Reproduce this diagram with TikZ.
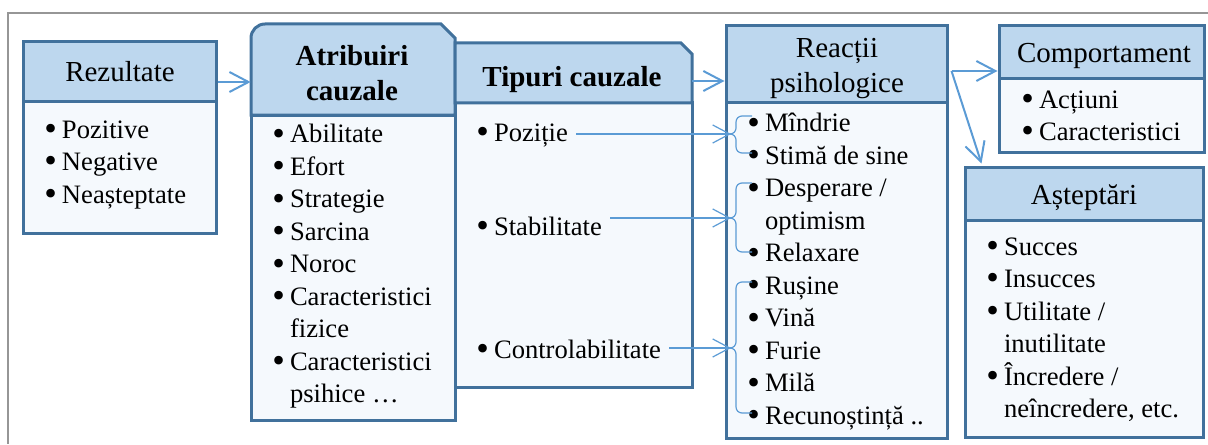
\documentclass[tikz,border=0pt]{standalone}
\usepackage{graphicx}
\usepackage{fontspec}
\setmainfont{Liberation Serif}
\usetikzlibrary{arrows.meta,fit,calc}
\definecolor{boxline}{RGB}{65,113,156}
\definecolor{hdrfill}{RGB}{189,215,238}
\definecolor{bodyfill}{RGB}{245,249,253}
\definecolor{arrowblue}{RGB}{91,155,213}
\definecolor{framegray}{RGB}{150,150,150}
\newcommand{\bul}{\makebox[8.8pt][l]{\raisebox{-1.2pt}{\scalebox{1.35}{\textbullet}}}}
\newcommand{\ind}{\hspace*{8.8pt}}
\tikzset{
  hdr/.style={draw=boxline,fill=hdrfill,line width=1.5pt,inner sep=0pt},
  bodybox/.style={draw=boxline,fill=bodyfill,line width=1.5pt,inner sep=0pt},
  htxt/.style={inner sep=0pt,align=center,font=\fontsize{14.5}{17.5}\selectfont},
  htxtb/.style={htxt,font=\fontsize{14.5}{17.5}\selectfont\bfseries},
  lst/.style={anchor=north west,align=left,inner sep=0pt,font=\fontsize{13.3}{16.25}\selectfont},
  item/.style={anchor=base west,inner sep=0pt,font=\fontsize{13.3}{16.25}\selectfont},
  flow/.style={draw=arrowblue,line width=1pt,-{Straight Barb[length=9.5pt,width=10pt]}},
  link/.style={draw=arrowblue,line width=0.6pt,-{Straight Barb[length=8.5pt,width=9pt]}},
  brc/.style={draw=arrowblue,line width=0.6pt,rounded corners=3pt},
}
\begin{document}
\begin{tikzpicture}[x=0.5pt,y=-0.5pt]
  \useasboundingbox (0,0) rectangle (1208,444);
  \draw[framegray,line width=1pt] (1208,13) -- (8,13) -- (8,444);

  % Rezultate
  \node[bodybox,fit={(23,102)(216,233)}] (rezb) {};
  \node[hdr,fit={(23,42)(216,102)}] (rezh) {};
  \node[htxt,anchor=base] (reztxt) at (120,82) {Rezultate};
  \node[lst] (rezl) at (44,120) {\bul Pozitive\\\bul Negative\\\bul Neașteptate};

  % Atribuiri cauzale
  \node[bodybox,fit={(251,115)(455,420)}] (atrb) {};
  \draw[hdr] (251,115) -- (251,38) arc[start angle=180,end angle=270,radius=14]
    -- (441,24) -- (455,38) -- (455,115) -- cycle;
  \node[fit={(251,24)(455,115)},inner sep=0pt] (atrh) {};
  \node[htxtb] (atrtxt) at (352,73.5) {Atribuiri\\cauzale};
  \node[lst] (atrl) at (272,124) {\bul Abilitate\\\bul Efort\\\bul Strategie\\
    \bul Sarcina\\\bul Noroc\\\bul Caracteristici\\\ind fizice\\
    \bul Caracteristici\\\ind psihice …};

  % Tipuri cauzale
  \node[bodybox,fit={(455,103)(692,387)}] (tipb) {};
  \draw[hdr] (455,103) -- (455,43) -- (681,43) -- (692,54) -- (692,103) -- cycle;
  \node[fit={(455,43)(692,103)},inner sep=0pt] (tiph) {};
  \node[htxtb,anchor=base] (tiptxt) at (572,87) {Tipuri cauzale};
  \node[item] (poz) at (476,141) {\bul Poziție};
  \node[item] (stab) at (476,235) {\bul Stabilitate};
  \node[item] (ctrl) at (476,358) {\bul Controlabilitate};

  % Reactii psihologice
  \node[bodybox,fit={(726,103)(947,438)}] (reab) {};
  \node[hdr,fit={(726,26)(947,103)}] (reah) {};
  \node[htxt] (reatxt) at (837,68.5) {Reacții\\psihologice};
  \node[lst] (real) at (747,113) {\bul Mîndrie\\\bul Stimă de sine\\\bul Desperare /\\
    \ind optimism\\\bul Relaxare\\\bul Rușine\\\bul Vină\\
    \bul Furie\\\bul Milă\\\bul Recunoștință ..};

  % Comportament
  \node[bodybox,fit={(999,79)(1204,152)}] (comb) {};
  \node[hdr,fit={(999,26)(1204,79)}] (comh) {};
  \node[htxt,anchor=base] (comtxt) at (1104,63) {Comportament};
  \node[lst] (coml) at (1021,90) {\bul Acțiuni\\\bul Caracteristici};

  % Asteptari
  \node[bodybox,fit={(965,220)(1203,437)}] (ashb) {};
  \node[hdr,fit={(965,167)(1203,220)}] (ashh) {};
  \node[htxt,anchor=base] (ashtxt) at (1084,204) {Așteptări};
  \node[lst] (ashl) at (986,237) {\bul Succes\\\bul Insucces\\\bul Utilitate /\\
    \ind inutilitate\\\bul Încredere /\\\ind neîncredere, etc.};

  % main arrows
  \draw[flow] ([yshift=-5pt]rezh.east) -- ([yshift=-5pt]rezh.east -| atrh.west);
  \draw[flow] ([yshift=-4pt]tiph.east) -- ([yshift=-4pt]tiph.east -| reah.west);
  \coordinate (fork) at ([xshift=1.5pt,yshift=-3.25pt]reah.east);
  \draw[flow] (fork) -- (fork -| comh.west);
  \draw[flow] (fork) -- ([xshift=9pt,yshift=1pt]ashh.north west);

  % links to the braces
  \foreach \n/\m/\t/\b in {poz/134/116/153,stab/218/183/252,ctrl/348/282/413}{
    \coordinate (tip-\n) at (731,\m);
    \path (\n.east |- tip-\n) ++(4pt,0) coordinate (from-\n);
    \draw[link] (from-\n) -- (tip-\n);
    \draw[brc] (752,\t) -| ([xshift=2.5pt]tip-\n) -- (tip-\n);
    \draw[brc] (752,\b) -| ([xshift=2.5pt]tip-\n) -- (tip-\n);
  }
\end{tikzpicture}
\end{document}
